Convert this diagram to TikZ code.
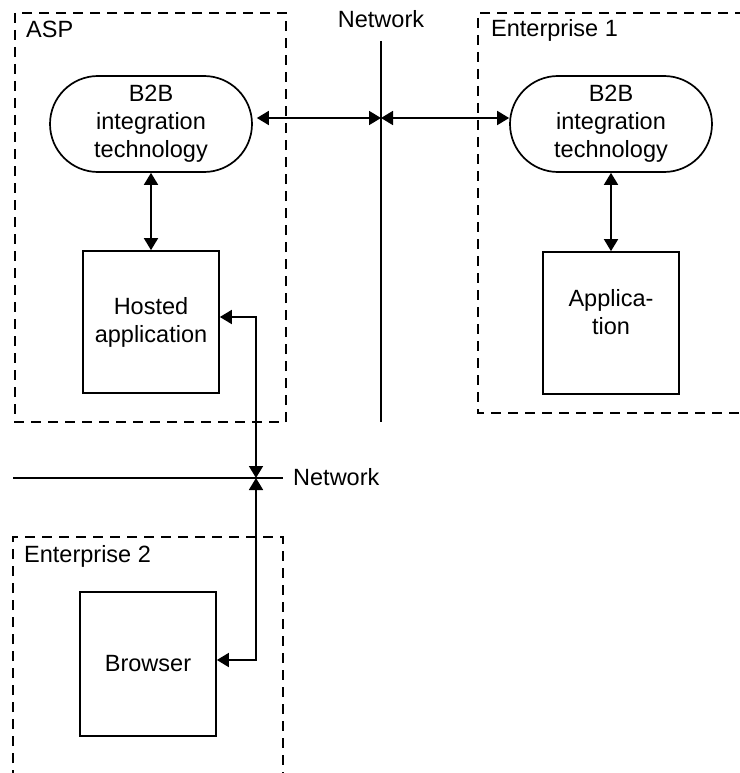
\documentclass[tikz,border=0pt]{standalone}
\usepackage{fontspec}
\setmainfont{Liberation Sans}
\usetikzlibrary{arrows.meta, shapes.misc, calc}

\tikzset{
	zone/.style={line width=1.7pt, dash pattern=on 10pt off 7pt},
	net/.style={line width=1.7pt},
	b2b/.style={draw, line width=1.7pt, rounded rectangle, minimum width=202pt, minimum height=96pt, inner sep=0pt, align=center},
	appbox/.style={draw, line width=1.7pt, minimum width=136pt, minimum height=142pt, inner sep=0pt, align=center},
	link/.style={{Triangle[length=12pt, width=14pt]}-{Triangle[length=12pt, width=14pt]}, line width=1.7pt},
	zonelabel/.style={inner sep=0pt, anchor=base west}
}

\begin{document}
\begin{tikzpicture}[x=1pt, y=-1pt, font=\fontsize{23.5}{28}\selectfont]
	\useasboundingbox (0,0) rectangle (739,773);
	
	\draw[zone] (15,13) rectangle (286,422);
	\node[zonelabel] (asplbl) at (26,38) {ASP};
	\draw[zone] (745,13) -- (478,13) -- (478,413) -- (745,413);
	\node[zonelabel] (ent1lbl) at (491,37) {Enterprise 1};
	\draw[zone] (13,780) -- (13,537) -- (283,537) -- (283,780);
	\node[zonelabel] (ent2lbl) at (24,562) {Enterprise 2};
	
	\coordinate (vtop) at (381,41);
	\coordinate (vbot) at (381,422);
	\draw[net] (vtop) -- (vbot);
	\node[inner sep=0pt, anchor=base] (netlbl1) at (381,28) {Network};
	
	\coordinate (hleft) at (13,478);
	\coordinate (hright) at (283,478);
	\draw[net] (hleft) -- (hright);
	\node[zonelabel] (netlbl2) at (293,485) {Network};
	
	\node[b2b] (aspb2b) at (151,124) {B2B\\integration\\technology};
	\node[appbox] (hosted) at (151,322) {Hosted\\application};
	\node[b2b] (entb2b) at (611,124) {B2B\\integration\\technology};
	\node[appbox] (app) at (611,323) {Applica-\\tion\\[-6pt]};
	\node[appbox, minimum height=144pt] (browser) at (148,664) {Browser};
	
	\coordinate (xtop) at (381,118);
	\coordinate (xbot) at (256,478);
	\draw[link, shorten <=4pt] (aspb2b.east |- xtop) -- (xtop);
	\draw[link] (xtop) -- (entb2b.west |- xtop);
	\draw[link] (aspb2b.south) -- (hosted.north);
	\draw[link] (entb2b.south) -- (app.north);
	\draw[link] ([yshift=5pt]hosted.east) -| (xbot);
	\draw[link] (xbot) |- ([yshift=4pt]browser.east);
\end{tikzpicture}
\end{document}
